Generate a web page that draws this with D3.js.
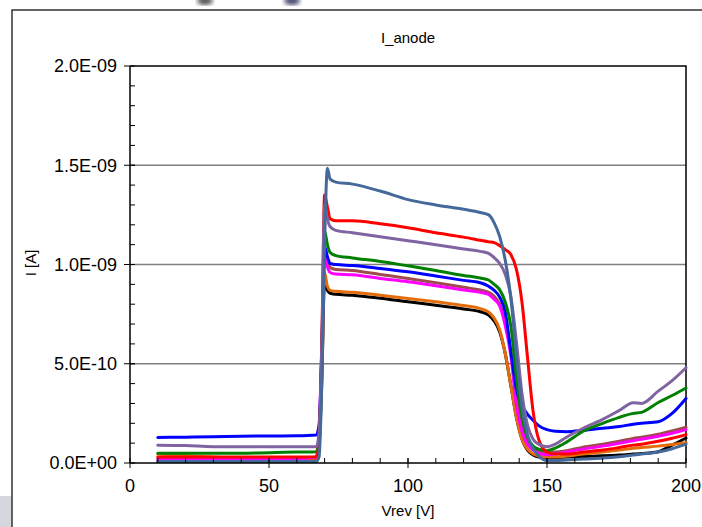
<!DOCTYPE html>
<html>
<head>
<meta charset="utf-8">
<script src="https://cdn.jsdelivr.net/npm/d3@7"></script>
<style>
  body { margin: 0; background: #fff; }
  text { font-family: "Liberation Sans", Arial, sans-serif; fill: #000; }
</style>
</head>
<body>
<div id="chart"></div>
<script>
// reverse voltage (V)
const vrev = [10, 20, 30, 40, 50, 60, 67, 68, 69, 70, 71, 72, 74, 80, 90, 100, 110, 120, 126, 129,
              131, 133, 135, 137, 139, 141, 143, 145, 147, 150, 153, 157, 163, 170, 176, 181, 184, 190, 195, 200];

// anode current, in units of 1E-10 A
const iSteel   = [0.08, 0.08, 0.08, 0.08, 0.08, 0.08, 0.08, 0.3, 4, 11, 14.85, 14.3, 14.15, 14.05, 13.7, 13.27, 13.0, 12.78, 12.62, 12.5,
                  12.1, 11.4, 10.2, 8.3, 5.4, 2.8, 1.4, 0.75, 0.35, 0.12, 0.12, 0.15, 0.2, 0.25, 0.32, 0.4, 0.45, 0.55, 0.72, 0.95];
const iRed     = [0.3, 0.3, 0.3, 0.3, 0.3, 0.3, 0.32, 1, 6, 13.5, 12.9, 12.3, 12.2, 12.2, 12.05, 11.85, 11.6, 11.38, 11.22, 11.14,
                  11.1, 10.95, 10.75, 10.5, 9.75, 8.1, 5.3, 2.6, 1.2, 0.55, 0.45, 0.45, 0.55, 0.65, 0.78, 0.9, 0.95, 1.1, 1.25, 1.43];
const iPurple  = [0.9, 0.88, 0.82, 0.82, 0.82, 0.82, 0.82, 1.5, 6, 13.0, 12.3, 11.9, 11.72, 11.6, 11.4, 11.2, 11.0, 10.78, 10.66, 10.56,
                  10.35, 10.05, 9.5, 8.4, 6.1, 3.5, 1.9, 1.2, 0.95, 0.82, 0.95, 1.3, 1.75, 2.2, 2.65, 3.04, 3.0, 3.62, 4.15, 4.8];
const iGreen   = [0.49, 0.49, 0.49, 0.49, 0.52, 0.55, 0.57, 1.2, 5.5, 11.7, 11.0, 10.6, 10.45, 10.33, 10.15, 9.93, 9.7, 9.45, 9.32, 9.22,
                  9.0, 8.72, 8.1, 6.9, 4.3, 2.3, 1.3, 0.85, 0.7, 0.62, 0.75, 1.05, 1.6, 2.0, 2.3, 2.5, 2.55, 3.05, 3.4, 3.78];
const iBlue    = [1.29, 1.3, 1.32, 1.35, 1.36, 1.37, 1.41, 1.9, 5.5, 10.9, 10.4, 10.05, 10.0, 9.95, 9.8, 9.63, 9.42, 9.2, 9.08, 8.9,
                  8.7, 8.35, 7.6, 5.6, 3.7, 2.9, 2.45, 2.15, 1.88, 1.68, 1.6, 1.58, 1.64, 1.75, 1.84, 1.95, 2.0, 2.08, 2.5, 3.25];
const iBrown   = [0.25, 0.25, 0.25, 0.25, 0.25, 0.25, 0.27, 1.2, 5.5, 10.4, 10.1, 9.85, 9.75, 9.7, 9.5, 9.3, 9.08, 8.85, 8.72, 8.6,
                  8.4, 8.0, 7.2, 5.6, 3.5, 1.9, 1.1, 0.75, 0.6, 0.5, 0.55, 0.62, 0.8, 0.95, 1.1, 1.24, 1.3, 1.45, 1.62, 1.8];
const iMagenta = [0.15, 0.2, 0.2, 0.2, 0.2, 0.22, 0.3, 1.5, 6, 10.6, 9.9, 9.6, 9.52, 9.48, 9.3, 9.13, 8.93, 8.72, 8.6, 8.5,
                  8.25, 7.9, 6.9, 5.4, 2.9, 1.6, 0.95, 0.65, 0.5, 0.42, 0.45, 0.55, 0.7, 0.85, 1.0, 1.12, 1.2, 1.35, 1.5, 1.68];
const iOrange  = [0.45, 0.38, 0.3, 0.22, 0.15, 0.15, 0.15, 1.0, 4.5, 9.6, 8.9, 8.7, 8.65, 8.6, 8.45, 8.29, 8.12, 7.93, 7.78, 7.6,
                  7.3, 6.7, 5.5, 3.9, 2.3, 1.2, 0.7, 0.45, 0.35, 0.3, 0.3, 0.35, 0.45, 0.55, 0.65, 0.74, 0.78, 0.85, 0.93, 1.02];
const iBlack   = [0.1, 0.1, 0.1, 0.1, 0.1, 0.1, 0.1, 0.8, 4.2, 9.2, 8.7, 8.55, 8.5, 8.45, 8.3, 8.12, 7.95, 7.76, 7.62, 7.45,
                  7.15, 6.6, 5.5, 3.9, 2.3, 1.2, 0.65, 0.4, 0.3, 0.28, 0.28, 0.3, 0.33, 0.36, 0.4, 0.45, 0.48, 0.57, 0.9, 1.26];

const xTicks = [0, 50, 100, 150, 200];
const yTicks = [0, 5, 10, 15, 20];
const yTickLabels = ["0.0E+00", "5.0E-10", "1.0E-09", "1.5E-09", "2.0E-09"];

// drawing order, last one on top
const series = [
  {values: iBlack,   color: "#000000"},
  {values: iOrange,  color: "#E46C0A"},
  {values: iBrown,   color: "#9E4B4B"},
  {values: iMagenta, color: "#FF00FF"},
  {values: iBlue,    color: "#0000FF"},
  {values: iGreen,   color: "#008000"},
  {values: iRed,     color: "#FF0000"},
  {values: iPurple,  color: "#8064A2"},
  {values: iSteel,   color: "#44699A"}
];

const W = 702, H = 527;
const plot = {left: 130, right: 686, top: 66, bottom: 463};

const svg = d3.select("#chart")
  .append("svg")
    .attr("width", W)
    .attr("height", H);

// bits of the slide background peeking out
const defs = svg.append("defs");
defs.append("filter").attr("id", "blur")
  .append("feGaussianBlur").attr("stdDeviation", 2);
svg.append("ellipse")
  .attr("cx", 205).attr("cy", 1).attr("rx", 8).attr("ry", 4)
  .attr("fill", "#555").attr("filter", "url(#blur)");
svg.append("ellipse")
  .attr("cx", 292).attr("cy", 1).attr("rx", 8).attr("ry", 4)
  .attr("fill", "#4a4a70").attr("filter", "url(#blur)");
svg.append("rect")
  .attr("x", 0).attr("y", 496).attr("width", 12).attr("height", 31)
  .attr("fill", "#d6d6de");

// chart area frame
svg.append("path")
  .attr("d", `M12,${H} L12,10 L${W},10`)
  .attr("fill", "none")
  .attr("stroke", "#333")
  .attr("stroke-width", 1.5);

const x = d3.scaleLinear().domain([0, 200]).range([plot.left, plot.right]);
const y = d3.scaleLinear().domain([0, 20]).range([plot.bottom, plot.top]);

// gridlines
svg.append("g")
  .selectAll("line")
  .data(yTicks.filter(d => d > 0 && d < 20))
  .join("line")
    .attr("x1", plot.left).attr("x2", plot.right)
    .attr("y1", d => y(d)).attr("y2", d => y(d))
    .attr("stroke", "#808080")
    .attr("stroke-width", 1.5);

// top & right border of plot area
svg.append("path")
  .attr("d", `M${plot.left},${y(20)} L${plot.right},${y(20)} L${plot.right},${plot.bottom}`)
  .attr("fill", "none")
  .attr("stroke", "#000")
  .attr("stroke-width", 1.5);

// lines
const line = d3.line()
  .x((d, i) => x(vrev[i]))
  .y(d => y(d))
  .curve(d3.curveMonotoneX);

svg.append("g")
  .selectAll("path")
  .data(series)
  .join("path")
    .attr("d", d => line(d.values))
    .attr("fill", "none")
    .attr("stroke", d => d.color)
    .attr("stroke-width", 3)
    .attr("stroke-linejoin", "round")
    .attr("stroke-linecap", "round");

// x axis: major ticks cross, minor ticks point inside
const xAxis = svg.append("g").attr("transform", `translate(0,${plot.bottom})`);
xAxis.append("line")
  .attr("x1", plot.left).attr("x2", plot.right)
  .attr("stroke", "#000").attr("stroke-width", 1.5);
xAxis.selectAll(".minor")
  .data(d3.range(10, 200, 10))
  .join("line")
    .attr("x1", d => x(d)).attr("x2", d => x(d))
    .attr("y1", 0).attr("y2", -5)
    .attr("stroke", "#000");
xAxis.selectAll(".major")
  .data(xTicks)
  .join("line")
    .attr("x1", d => x(d)).attr("x2", d => x(d))
    .attr("y1", -5).attr("y2", 5)
    .attr("stroke", "#000");
xAxis.selectAll("text")
  .data(xTicks)
  .join("text")
    .attr("x", d => x(d))
    .attr("y", 29)
    .attr("text-anchor", "middle")
    .attr("font-size", "18px")
    .text(d => d);

// y axis
const yAxis = svg.append("g").attr("transform", `translate(${plot.left},0)`);
yAxis.append("line")
  .attr("y1", plot.top).attr("y2", plot.bottom)
  .attr("stroke", "#000").attr("stroke-width", 1.5);
yAxis.selectAll(".minor")
  .data(d3.range(1, 20))
  .join("line")
    .attr("y1", d => y(d)).attr("y2", d => y(d))
    .attr("x1", 0).attr("x2", 5)
    .attr("stroke", "#000");
yAxis.selectAll(".major")
  .data(yTicks)
  .join("line")
    .attr("y1", d => y(d)).attr("y2", d => y(d))
    .attr("x1", -6).attr("x2", 5)
    .attr("stroke", "#000");
yAxis.selectAll("text")
  .data(yTicks)
  .join("text")
    .attr("x", -13)
    .attr("y", d => y(d))
    .attr("dy", "0.35em")
    .attr("text-anchor", "end")
    .attr("font-size", "18px")
    .text((d, i) => yTickLabels[i]);

// titles
svg.append("text")
  .attr("x", 408).attr("y", 43)
  .attr("text-anchor", "middle")
  .attr("font-size", "15px")
  .text("I_anode");

svg.append("text")
  .attr("x", 408).attr("y", 516)
  .attr("text-anchor", "middle")
  .attr("font-size", "15px")
  .text("Vrev [V]");

svg.append("text")
  .attr("transform", "translate(36,263) rotate(-90)")
  .attr("text-anchor", "middle")
  .attr("font-size", "15px")
  .text("I [A]");
</script>
</body>
</html>
